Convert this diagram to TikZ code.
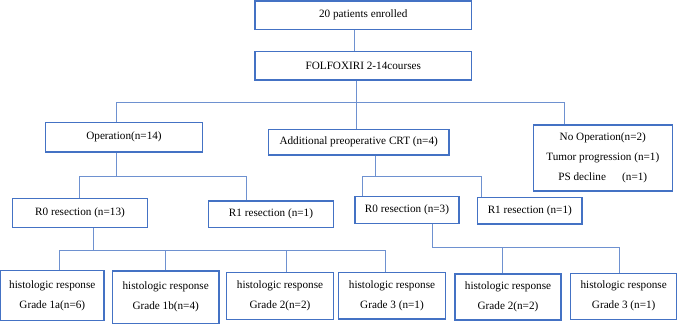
\documentclass[tikz,border=0pt]{standalone}
\usepackage{fontspec}
\setmainfont{Liberation Serif}
\definecolor{boxblue}{RGB}{68,114,196}
\definecolor{lineblue}{RGB}{110,145,208}
\begin{document}
\begin{tikzpicture}[x=1pt,y=-1pt,
  box/.style={draw=boxblue, line width=1.3pt, fill=white, inner sep=0pt, align=center,
    font=\fontsize{11.2}{20}\selectfont},
  conn/.style={draw=lineblue, line width=1pt}]
\useasboundingbox (0,0) rectangle (678,324);
% boxes
\node[box, minimum width=216.7pt, minimum height=28.3pt] (enr) at (363.3,15.2) {20 patients enrolled};
\node[box, minimum width=216.7pt, minimum height=28.3pt] (fol) at (363.3,65.8) {FOLFOXIRI 2-14courses};
\node[box, minimum width=156.6pt, minimum height=29.3pt] (op) at (124,137.3) {Operation(n=14)};
\node[box, minimum width=180.7pt, minimum height=25.7pt] (crt) at (358.7,142.2) {Additional preoperative CRT (n=4)};
\node[box, minimum width=139pt, minimum height=66pt] (noop) at (602.8,158) {No Operation(n=2)\\Tumor progression (n=1)\\PS decline\hspace{1.2em} (n=1)};
\node[box, minimum width=134.6pt, minimum height=29pt] (r0a) at (80,212.8) {R0 resection (n=13)};
\node[box, minimum width=124.6pt, minimum height=26.3pt] (r1a) at (271,214.2) {R1 resection (n=1)};
\node[box, minimum width=104pt, minimum height=26.6pt] (r0b) at (407,210) {R0 resection (n=3)};
\node[box, minimum width=104.3pt, minimum height=26.3pt] (r1b) at (529.8,210.8) {R1 resection (n=1)};
\node[box, minimum width=103.3pt, minimum height=50pt] (g1) at (52.3,295.7) {histologic response\\Grade 1a(n=6)};
\node[box, minimum width=106.7pt, minimum height=52.3pt] (g2) at (165.7,297.2) {histologic response\\Grade 1b(n=4)};
\node[box, minimum width=106.6pt, minimum height=46.6pt] (g3) at (280,296) {histologic response\\Grade 2(n=2)};
\node[box, minimum width=107.4pt, minimum height=46.3pt] (g4) at (392,295.8) {histologic response\\Grade 3 (n=1)};
\node[box, minimum width=106pt, minimum height=46pt] (g5) at (508,297) {histologic response\\Grade 2(n=2)};
\node[box, minimum width=106pt, minimum height=46pt] (g6) at (623.7,296.3) {histologic response\\Grade 3 (n=1)};
% bus coordinates
\coordinate (a0) at (354.3,0);
\coordinate (k1) at (356.7,102);
\coordinate (b1l) at (116,102);
\coordinate (b1r) at (564.3,102);
\coordinate (k2) at (116.7,176);
\coordinate (b2l) at (79,176);
\coordinate (b2r) at (246.7,176);
\coordinate (k3) at (375.7,176.7);
\coordinate (b3l) at (362.3,176.7);
\coordinate (b3r) at (481.7,176.7);
\coordinate (k4) at (93.3,250);
\coordinate (b4a) at (59.3,250);
\coordinate (b4b) at (165,250);
\coordinate (b4c) at (286.7,250);
\coordinate (b4d) at (385,250);
\coordinate (k5) at (432.7,247.3);
\coordinate (b5a) at (502.3,247.3);
\coordinate (b5b) at (619,247.3);
% connectors
\draw[conn] (enr.south -| a0) -- (fol.north -| a0);
\draw[conn] (fol.south -| k1) -- (k1);
\draw[conn] (b1l |- op.north) -- (b1l) -- (b1r) -- (b1r |- noop.north);
\draw[conn] (k1) -- (k1 |- crt.north);
\draw[conn] (op.south -| k2) -- (k2);
\draw[conn] (b2l |- r0a.north) -- (b2l) -- (b2r) -- (b2r |- r1a.north);
\draw[conn] (crt.south -| k3) -- (k3);
\draw[conn] (b3l |- r0b.north) -- (b3l) -- (b3r) -- (b3r |- r1b.north);
\draw[conn] (r0a.south -| k4) -- (k4);
\draw[conn] (b4a |- g1.north) -- (b4a) -- (b4d) -- (b4d |- g4.north);
\draw[conn] (b4b) -- (b4b |- g2.north);
\draw[conn] (b4c) -- (b4c |- g3.north);
\draw[conn] (r0b.south -| k5) -- (k5) -- (b5b) -- (b5b |- g6.north);
\draw[conn] (b5a) -- (b5a |- g5.north);
\end{tikzpicture}
\end{document}
